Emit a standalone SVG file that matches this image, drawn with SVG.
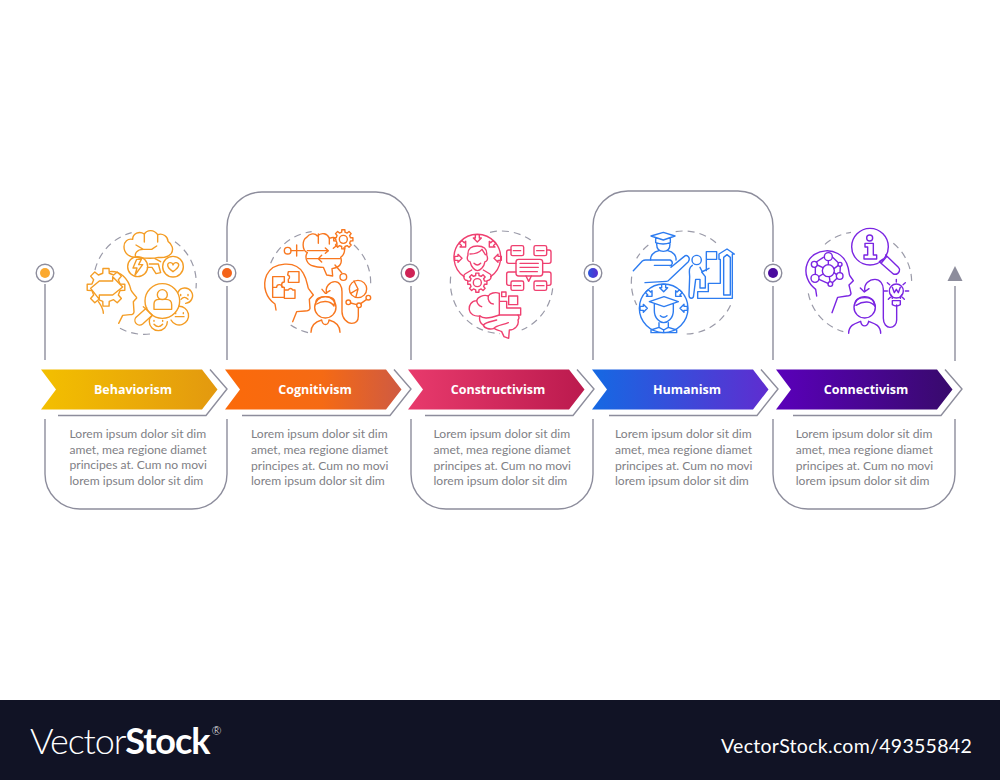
<svg xmlns="http://www.w3.org/2000/svg" xmlns:xlink="http://www.w3.org/1999/xlink" width="1000" height="780" viewBox="0 0 1000 780">
<style>
.frame{fill:none;stroke:#8d8d9c;stroke-width:1.4}
.dotr{fill:#fff;stroke:#8d8d9c;stroke-width:1.4}
.lab{font-family:"Open Sans","Liberation Sans",sans-serif;font-weight:700;font-size:12.5px;fill:#fff;text-anchor:middle}
.body{font-family:Lato,"Liberation Sans",sans-serif;font-size:12.1px;fill:#808085}
.ic{fill:none;stroke-linejoin:round;stroke-linecap:round}
.ic *{vector-effect:non-scaling-stroke;stroke-width:1.4}
.ic .dash{stroke:#9a9aa8;stroke-dasharray:7 5;stroke-linecap:butt;stroke-width:1.2}
.orange{stroke:#f49d25}.dorange{stroke:#f8771f}.pink{stroke:#ef4070}.blue{stroke:#2d7cf0}.violet{stroke:#7a25e2}
</style>
<defs>
<linearGradient id="g1"><stop offset="0" stop-color="#f3bf00"/><stop offset="1" stop-color="#e3990f"/></linearGradient>
<linearGradient id="g2"><stop offset="0" stop-color="#fb6a0a"/><stop offset=".55" stop-color="#f56a14"/><stop offset="1" stop-color="#cf5a42"/></linearGradient>
<linearGradient id="g3"><stop offset="0" stop-color="#e83a6c"/><stop offset="1" stop-color="#bb1a4e"/></linearGradient>
<linearGradient id="g4"><stop offset="0" stop-color="#1569e3"/><stop offset="1" stop-color="#5f2dd0"/></linearGradient>
<linearGradient id="g5"><stop offset="0" stop-color="#5a00ba"/><stop offset="1" stop-color="#380a6c"/></linearGradient>
<linearGradient id="gd4"><stop offset="0" stop-color="#2a55dc"/><stop offset="1" stop-color="#5a2dd0"/></linearGradient>
<path id="chev" d="M0,0H161L176.500,20L161,40H0L15,20Z"/>
<path id="chevline" d="M169,0.500L186,20L165,46.500H17"/>
<path id="gear" vector-effect="non-scaling-stroke" d="M74,-17L99,-16L99,16L74,17L65,40L81,59L59,81L40,65L17,74L16,99L-16,99L-17,74L-40,65L-59,81L-81,59L-65,40L-74,17L-99,16L-99,-16L-74,-17L-65,-40L-81,-59L-59,-81L-40,-65L-17,-74L-16,-99L16,-99L17,-74L40,-65L59,-81L81,-59L65,-40Z"/>
<path id="barrow" vector-effect="non-scaling-stroke" d="M-6,-12H6V-2H12L0,10L-12,-2H-6Z"/>
</defs>
<rect width="1000" height="780" fill="#fff"/>

<g id="connectors" class="frame">
<path d="M45,284V360"/>
<path d="M45,419V474A35,35 0 0 0 80,509H192A35,35 0 0 0 227,474V419"/>
<path d="M227,262V227A35,35 0 0 1 262,192H376A35,35 0 0 1 411,227V262"/>
<path d="M227,286V360M411,286V360"/>
<path d="M411,419V474A35,35 0 0 0 446,509H558A35,35 0 0 0 593,474V419"/>
<path d="M593,262V226A35,35 0 0 1 628,191H738A35,35 0 0 1 773,226V262"/>
<path d="M593,286V360M773,286V360"/>
<path d="M773,419V474A35,35 0 0 0 808,509H920A35,35 0 0 0 955,474V419"/>
<path d="M955,286V361"/>
<use href="#chevline" x="41" y="369"/>
<use href="#chevline" x="225" y="369"/>
<use href="#chevline" x="408" y="369"/>
<use href="#chevline" x="592" y="369"/>
<use href="#chevline" x="776" y="369"/>
<path d="M955,266L962.500,281H947.500Z" fill="#8d8d9c" stroke="none"/>
</g>

<g id="node-behaviorism">
<circle class="dotr" cx="45" cy="273" r="8.800"/><circle cx="45" cy="273" r="5" fill="#fba92f"/>
<g class="ic orange" transform="translate(30 180) scale(.33333)">
<path class="dash" d="M195,270A153,153 0 0 1 305,158M435,185A153,153 0 0 1 498,325M270,445A153,153 0 0 0 360,462"/>
<path d="M322,232C296,234 282,218 282,200C282,185 293,175 308,178C308,160 328,152 343,162C352,148 372,148 383,164C398,158 414,170 414,184C426,192 432,208 424,220C416,230 402,234 385,232C375,235 345,235 322,232Z"/>
<path d="M343,162V186M383,164L383,186M318,195L340,208H365L380,198M318,232C312,222 320,208 340,208M358,252H385L392,278L378,281L366,262L352,262"/>
<path d="M322,232L335,236M375,236L392,245"/>
<circle cx="323" cy="260" r="30"/><path d="M320,238L309,264H321L315,285L338,254H326L334,238Z"/>
<circle cx="429" cy="260" r="31"/><path d="M429,275C404,258 414,246 422,248C427,249 429,253 429,255C430,252 434,247 439,248C448,250 452,259 429,275Z"/>
<use href="#gear" transform="translate(228 322) scale(.57)"/>
<path d="M208,303H248V290L278,321L248,345H208V358L182,325L208,303"/>
<path d="M240,275C270,272 295,295 303,330C306,340 320,348 320,354L310,365L312,395Q312,404 300,404L278,406L266,430M205,365C212,375 220,385 220,400"/>
<circle cx="397" cy="363" r="52"/>
<circle cx="397" cy="344" r="15"/><path d="M372,388V372Q372,358 388,358H408Q425,358 425,374V388Z"/>
<path d="M350,383L320,410A14,14 0 0 0 338,432L367,406M340,380L366,404"/>
<path d="M444,337A23,23 0 1 1 467,370M453,358Q463,346 474,358M452,343V347M474,343V347"/>
<path d="M446,379A28,28 0 1 1 423,420M436,410H462M437,398V401M460,398V401"/>
<path d="M358,425A27,27 0 1 0 412,425M372,433Q385,447 398,433M372,421V424M398,421V424M358,425C358,412 362,410 366,407"/>
</g>
<use href="#chev" x="41" y="369.500" fill="url(#g1)"/>
<text class="lab" x="133" y="393.500">Behaviorism</text>
<text class="body" x="69.500" y="437.800">Lorem ipsum dolor sit dim</text>
<text class="body" x="69.500" y="453.500">amet, mea regione diamet</text>
<text class="body" x="69.500" y="469.200">principes at. Cum no movi</text>
<text class="body" x="69.500" y="484.900">lorem ipsum dolor sit dim</text>
</g>

<g id="node-cognitivism">
<circle class="dotr" cx="227" cy="273" r="8.800"/><circle cx="227" cy="273" r="5" fill="#f4641a"/>
<g class="ic dorange" transform="translate(220 180) scale(.33333)">
<path class="dash" d="M152,250A152,152 0 0 1 275,155M402,195A152,152 0 0 1 452,310M212,435A152,152 0 0 0 265,458"/>
<path d="M262,218C245,210 246,180 260,172C268,160 285,158 292,168C305,156 322,160 328,175C340,170 345,172 348,180M262,218C252,232 262,255 280,258C290,262 305,262 310,262L320,285L338,288L336,266C360,262 368,250 362,232C372,225 376,212 372,203"/>
<path d="M262,212H325M325,212L316,204M325,212L316,220M295,162V190M262,236H360M295,236L305,226M295,236L305,246M345,255L365,278M328,175V192M340,205L352,195"/>
<circle cx="203" cy="212" r="10"/><path d="M213,212H250M230,195V228"/>
<use href="#gear" transform="translate(370 178) scale(.29)"/><circle cx="370" cy="178" r="12"/>
<circle cx="370" cy="291" r="10"/>
<path d="M168,390L165,372C140,355 125,320 140,285C160,245 228,240 250,280C262,300 262,318 265,325L280,345L268,358L270,385Q268,393 255,393L230,395L218,425"/>
<path d="M158,290H193V306A8,8 0 0 0 193,322V352H158ZM158,322H170A8,8 0 0 1 186,322H193M193,330H205A7,7 0 0 1 218,330H225V355H193M203,285L205,275H237V307H205V298A7,7 0 0 0 203,285"/>
<circle cx="316" cy="382" r="32"/><path d="M288,365C288,345 344,345 344,365L342,378C330,360 305,362 290,372M273,457C273,432 290,424 305,420M360,457C360,432 342,424 327,420M305,420C308,438 325,438 327,420"/>
<path d="M320,340C314,320 330,305 345,305C358,305 366,318 366,335V395C366,415 382,430 395,430C410,430 415,420 415,408V383M306,328L316,340L330,332"/>
<circle cx="414" cy="327" r="26"/><path d="M414,327L402,303M414,327L392,340M414,327L408,350"/>
<circle cx="385" cy="367" r="7"/><circle cx="417" cy="376" r="7"/><circle cx="445" cy="353" r="7"/><path d="M392,369L410,374M422,371L440,358"/>
</g>
<use href="#chev" x="225" y="369.500" fill="url(#g2)"/>
<text class="lab" x="315" y="393.500">Cognitivism</text>
<text class="body" x="251" y="438.300">Lorem ipsum dolor sit dim</text>
<text class="body" x="251" y="454">amet, mea regione diamet</text>
<text class="body" x="251" y="469.700">principes at. Cum no movi</text>
<text class="body" x="251" y="485.400">lorem ipsum dolor sit dim</text>
</g>

<g id="node-constructivism">
<circle class="dotr" cx="410" cy="273" r="8.800"/><circle cx="410" cy="273" r="5" fill="#cf2456"/>
<g class="ic pink" transform="translate(400 180) scale(.33333)">
<path class="dash" d="M270,157A154,154 0 0 1 392,180M152,290A154,154 0 0 0 300,461M458,325A154,154 0 0 1 365,450"/>
<path d="M192,290A70,70 0 1 1 272,290"/>
<use href="#barrow" transform="translate(232 176)"/><use href="#barrow" transform="translate(190 194) rotate(-45)"/><use href="#barrow" transform="translate(176 235) rotate(-90)"/><use href="#barrow" transform="translate(275 194) rotate(45)"/><use href="#barrow" transform="translate(292 235) rotate(90)"/>
<path d="M204,225C202,205 215,198 232,198C250,198 262,205 260,225M204,225C198,238 206,245 210,245C214,262 225,272 232,272C240,272 252,262 255,245C260,245 266,238 260,225M210,222C225,222 240,215 246,208C250,215 254,220 256,224M222,250Q232,260 242,250"/>
<path d="M215,270L195,282C190,285 190,295 196,300L203,302M250,270L270,282C275,285 275,295 268,300L262,302"/>
<use href="#gear" transform="translate(232 308) scale(.29)"/><circle cx="232" cy="308" r="12"/>
<rect x="348" y="238" width="80" height="50" rx="8"/><path d="M378,288L386,304L394,288M360,250H415M360,262H415M360,275H412"/>
<rect x="333" y="197" width="38" height="30" rx="5"/><rect x="402" y="197" width="38" height="30" rx="5"/><rect x="333" y="303" width="38" height="28" rx="5"/><rect x="402" y="303" width="38" height="28" rx="5"/>
<path d="M340,212H362M410,212H432M340,317H362M410,317H432"/>
<path d="M333,210H326Q320,210 320,216V244Q320,250 326,250H348M440,210H447Q453,210 453,216V244Q453,250 447,250H428M348,276H326Q320,276 320,282V310Q320,316 326,316H333M428,276H447Q453,276 453,282V310Q453,316 447,316H440"/>
<path d="M298,340C285,335 270,340 265,348C250,342 232,352 230,362C215,362 206,375 208,390C210,402 222,410 240,408C236,420 242,432 250,435C252,445 270,450 282,445C290,452 298,450 305,455L312,470L326,475L328,450C345,450 358,435 354,420C358,415 358,410 354,405"/>
<path d="M265,348C262,360 270,372 280,372M230,362C232,372 238,378 245,380M240,408C250,418 270,415 298,405M250,435C260,425 275,425 290,420M282,445C290,435 310,435 325,428"/>
<path d="M298,340V405H362V384H320V364H298M305,336H318V350H305ZM326,348H353V374H326Z"/>
</g>
<use href="#chev" x="408" y="369.500" fill="url(#g3)"/>
<text class="lab" x="498" y="393.500">Constructivism</text>
<text class="body" x="433.500" y="438.300">Lorem ipsum dolor sit dim</text>
<text class="body" x="433.500" y="454">amet, mea regione diamet</text>
<text class="body" x="433.500" y="469.700">principes at. Cum no movi</text>
<text class="body" x="433.500" y="485.400">lorem ipsum dolor sit dim</text>
</g>

<g id="node-humanism">
<circle class="dotr" cx="593" cy="273" r="8.800"/><circle cx="593" cy="273" r="5" fill="url(#gd4)"/>
<g class="ic blue" transform="translate(585 180) scale(.33333)">
<path class="dash" d="M272,155A150,150 0 0 1 395,190M190,195A150,150 0 0 0 155,235M140,290A150,150 0 0 0 155,375M305,462A150,150 0 0 0 437,375"/>
<path d="M198,168L235,157L270,168L235,180ZM212,175V188Q235,196 256,188V175M215,192C215,210 225,214 235,214C245,214 255,210 255,192M222,212C205,215 195,228 197,240M248,212C265,215 275,228 273,240"/>
<path d="M145,272L172,243Q176,240 182,240H255Q262,242 262,250Q260,258 252,256H208M258,262L297,230C305,222 318,232 310,245L252,300Q250,304 244,304L180,308"/>
<circle cx="335" cy="240" r="14"/><path d="M322,256C312,262 312,272 314,290L312,345C312,358 326,358 326,345L332,298H345V324H361V290L350,276L372,265M345,262L352,276"/>
<path d="M364,215H395V238H364ZM364,215V272"/>
<path d="M338,355V335H370V310H406V238H402V222L426,207L448,222H442V355ZM416,345V232L426,224L436,232V345Z"/>
<circle cx="236" cy="385" r="73"/>
<use href="#barrow" transform="translate(236 325)"/><use href="#barrow" transform="translate(194 342) rotate(-45)"/><use href="#barrow" transform="translate(177 385) rotate(-90)"/><use href="#barrow" transform="translate(279 342) rotate(45)"/><use href="#barrow" transform="translate(295 385) rotate(90)"/>
<path d="M193,365L237,350L280,365L237,380ZM208,372V392C208,415 225,428 236,428C248,428 265,415 265,392V372M226,407Q236,416 246,407M222,428V442L198,450V458H275V450L250,442V428M222,442L236,450L250,442M236,450V458"/>
</g>
<use href="#chev" x="592" y="369.500" fill="url(#g4)"/>
<text class="lab" x="687" y="393.500">Humanism</text>
<text class="body" x="615" y="438.300">Lorem ipsum dolor sit dim</text>
<text class="body" x="615" y="454">amet, mea regione diamet</text>
<text class="body" x="615" y="469.700">principes at. Cum no movi</text>
<text class="body" x="615" y="485.400">lorem ipsum dolor sit dim</text>
</g>

<g id="node-connectivism">
<circle class="dotr" cx="773" cy="273" r="8.800"/><circle cx="773" cy="273" r="5" fill="#4a0a9e"/>
<g class="ic violet" transform="translate(770 210) scale(.33333)">
<path class="dash" d="M165,103A150,150 0 0 1 243,67M370,100A150,150 0 0 1 425,215M115,250A150,150 0 0 0 220,365"/>
<circle cx="300" cy="110" r="55"/><circle cx="299" cy="84" r="9"/><path d="M285,100H310V135H320V147H282V135H293V111H285Z"/>
<path d="M338,148L328,155L370,192Q382,196 388,184Q391,178 385,172L347,135M350,140L335,158"/>
<path d="M140,258L137,238C115,222 100,190 112,160C128,115 205,105 230,160C240,185 235,190 240,198L250,212L237,225L243,250Q242,258 230,258L203,262L186,308"/>
<circle cx="175" cy="182" r="18"/><circle cx="175" cy="140" r="12"/><circle cx="133" cy="163" r="9"/><circle cx="135" cy="205" r="12"/><circle cx="181" cy="222" r="7"/><circle cx="209" cy="198" r="10"/><circle cx="210" cy="163" r="6"/>
<path d="M175,152V164M142,165L159,173M146,200L159,192M136,172V193M160,142L139,156M188,142L205,158M192,176L205,166M192,188L200,194M178,200L180,215M147,208L174,220M187,218L201,205M211,169L210,188"/>
<circle cx="284" cy="292" r="32"/><path d="M256,278C256,258 312,258 312,278L316,290C304,272 280,272 258,286M236,370C236,345 256,340 272,334M332,370C332,345 312,340 296,334M272,334C275,352 292,352 296,334"/>
<path d="M285,243C280,222 298,208 315,208C330,208 340,222 340,238V325C340,342 350,352 360,352C372,352 380,342 380,330V285M271,234L283,246L297,236"/>
<circle cx="379" cy="243" r="21"/><path d="M367,272H391V284Q379,292 367,284ZM367,265Q365,255 362,254M391,265Q393,255 396,254M367,232L373,248L379,238L385,248L391,232M342,243H352M406,243H416M379,208V216M352,218L359,224M406,218L399,224M355,268L361,262M403,268L397,262"/>
</g>
<use href="#chev" x="776" y="369.500" fill="url(#g5)"/>
<text class="lab" x="866" y="393.500">Connectivism</text>
<text class="body" x="795.700" y="438.300">Lorem ipsum dolor sit dim</text>
<text class="body" x="795.700" y="454">amet, mea regione diamet</text>
<text class="body" x="795.700" y="469.700">principes at. Cum no movi</text>
<text class="body" x="795.700" y="485.400">lorem ipsum dolor sit dim</text>
</g>

<g id="footer">
<rect y="700" width="1000" height="80" fill="#111325"/>
<text x="30" y="754" fill="#fff" font-family="Lato,sans-serif" font-size="36" letter-spacing="-1.100"><tspan font-weight="300">Vector</tspan><tspan font-weight="700">Stock</tspan></text>
<text x="211.500" y="735" fill="#fff" font-family="Lato,sans-serif" font-size="12" font-weight="300">®</text>
<text x="721" y="753" fill="#fff" font-family="Lato,sans-serif" font-size="19.500" letter-spacing=".3">VectorStock.com/49355842</text>
</g>
</svg>
